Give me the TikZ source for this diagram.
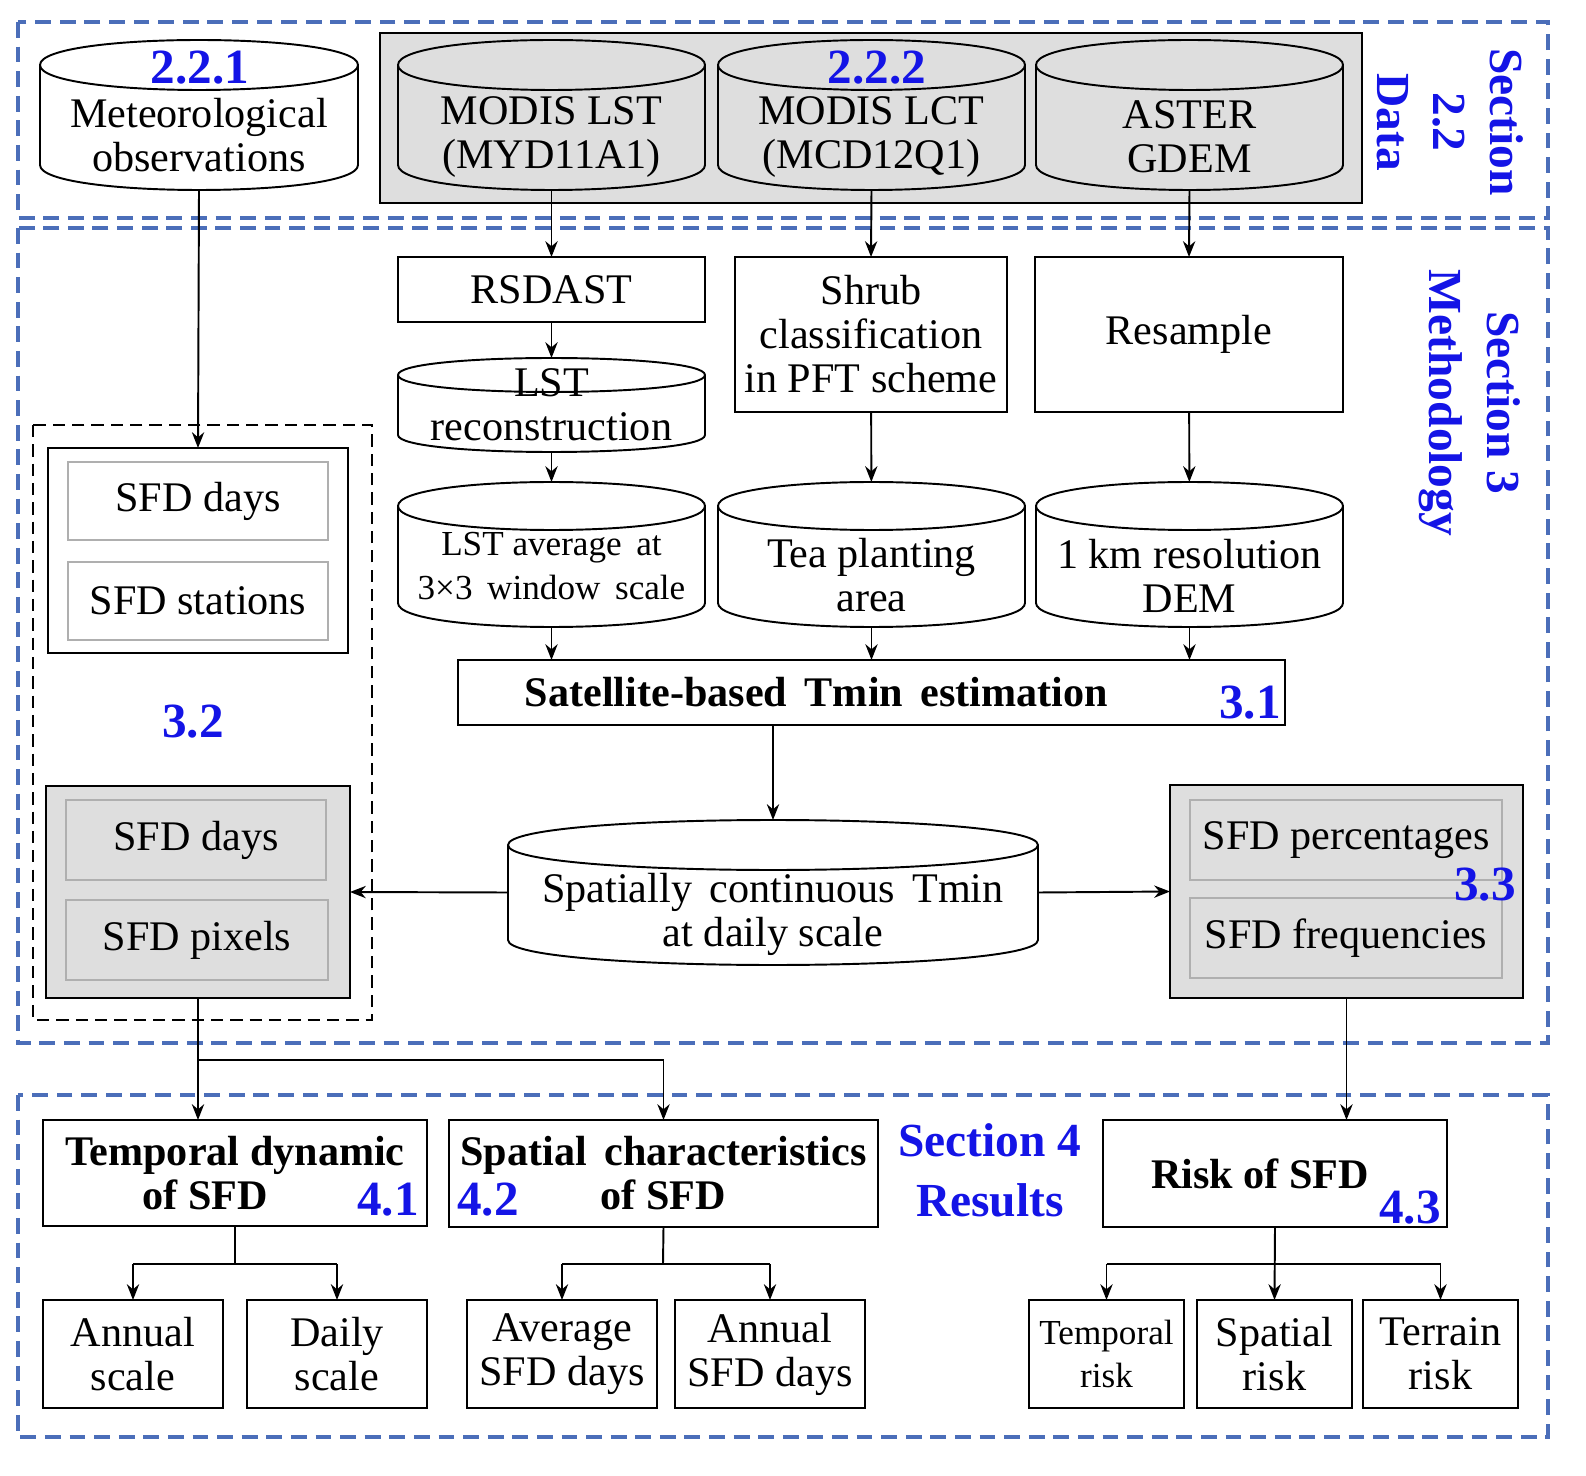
\documentclass[tikz,border=0pt]{standalone}
\usepackage{fontspec}
\setmainfont{Liberation Serif}
\usetikzlibrary{fit,arrows.meta}
\definecolor{secblue}{RGB}{75,110,185}
\definecolor{lblue}{RGB}{20,20,230}
\definecolor{gfill}{RGB}{222,222,222}
\definecolor{ibord}{RGB}{175,175,175}
\newcommand\fs{\fontsize{24}{25}\selectfont}
\newcommand\fsm{\fontsize{20}{25}\selectfont}
\newcommand\fsb{\fontsize{28}{34}\selectfont\bfseries}
\tikzset{
 box/.style={draw,line width=1.1pt,inner sep=0pt,outer sep=0pt},
 inbox/.style={draw=ibord,line width=1.5pt,inner sep=0pt,outer sep=0pt},
 txt/.style={inner sep=0pt,align=center,font=\fs},
 cyl/.style={draw,line width=1.1pt},
 sec/.style={draw=secblue,dashed,line width=1.8pt,dash pattern=on 9pt off 5pt},
 lab/.style={text=lblue,font=\fsb,inner sep=0pt,align=center},
 arr/.style={line width=1.1pt,-{Stealth[length=9pt,width=7pt]}},
 ln/.style={line width=1.1pt}
}
\newcommand\bx[7][]{\node[box,#1,fit={(#3,#4)(#5,#6)}] (#2) {};
 \node[txt,#1,draw=none,fill=none] (#2t) at (#2.center) {#7};}
\newcommand\cy[9]{%
 \path[cyl,fill=#7] (#2,{#3+#6}) -- (#2,{#5-#6}) .. controls (#2,{#5+0.333*#6}) and (#4,{#5+0.333*#6}) .. (#4,{#5-#6}) -- (#4,{#3+#6}) .. controls (#4,{#3-0.333*#6}) and (#2,{#3-0.333*#6}) .. cycle;
 \path[cyl] (#2,{#3+#6}) .. controls (#2,{#3+2.333*#6}) and (#4,{#3+2.333*#6}) .. (#4,{#3+#6});
 \node[inner sep=0pt,outer sep=0pt,fit={(#2,#3)(#4,#5)}] (#1) {};
 \node[txt] (#1t) at ({(#2+#4)/2},{(#3+#5)/2+#9}) {#8};
}
\begin{document}
\begin{tikzpicture}[x=0.02cm,y=-0.02cm]
\useasboundingbox (0,0) rectangle (1586,1476);
% section frames
\draw[sec] (18,22) rectangle (1548,218);
\draw[sec] (18,228) rectangle (1548,1043);
\draw[sec] (18,1095) rectangle (1548,1437);
\node[lab,rotate=-90,font=\fontsize{27}{32}\selectfont\bfseries] (s22) at (1450,122) {Section\\2.2\\Data};
\node[lab,rotate=-90,font=\fontsize{27}{33}\selectfont\bfseries] (s3) at (1470,403) {Section 3\\Methodology};
\node[lab,font=\fontsize{27}{34}\selectfont\bfseries] (s4) at (990,1170) {Section 4\\Results};
% data
\draw[line width=1.1pt,fill=gfill] (380,33) rectangle (1362,203);
\cy{met}{40}{40}{358}{190}{25}{white}{Meteorological\\observations}{20}
\cy{lst}{398}{40}{705}{190}{25}{gfill}{MODIS LST\\(MYD11A1)}{22}
\cy{lct}{718}{40}{1025}{190}{25}{gfill}{MODIS LCT\\(MCD12Q1)}{22}
\cy{ast}{1036}{40}{1343}{190}{25}{gfill}{ASTER\\GDEM}{22}
\node[lab] (l221) at (200,68) {2.2.1};
\node[lab] (l222) at (877,68) {2.2.2};
% methodology
\bx{rsd}{398}{257}{705}{322}{RSDAST}
\cy{rec}{398}{358}{705}{452}{17}{white}{LST\\reconstruction}{0}
\cy{avg}{398}{482}{705}{627}{24}{white}{\fsm LST average\, at\\\fsm 3×3\, window\, scale}{12}
\bx{shr}{735}{257}{1007}{412}{Shrub\\classification\\in PFT scheme}
\bx{res}{1035}{257}{1343}{412}{Resample}
\cy{tea}{718}{482}{1025}{627}{24}{white}{Tea planting\\area}{21}
\cy{dem}{1036}{482}{1343}{627}{24}{white}{1 km resolution\\DEM}{21}
\bx[font=\fs\bfseries]{sat}{458}{660}{1285}{725}{Satellite-based\, Tmin\, estimation\hspace*{2.2cm}}
\node[lab] (l31) at (1250,703) {3.1};
\cy{spc}{508}{820}{1038}{965}{25}{white}{Spatially\, continuous\, Tmin\\at daily scale}{22}
% left group
\draw[ln,dashed,dash pattern=on 7pt off 4pt] (33,425) rectangle (372,1020);
\node[box,fit={(48,448)(348,653)}] (up) {};
\bx[inbox]{ud}{68}{462}{328}{540}{SFD days}
\bx[inbox]{us}{68}{562}{328}{640}{SFD stations}
\node[lab] (l32) at (193,722) {3.2};
\node[box,fill=gfill,fit={(46,786)(350,998)}] (lo) {};
\bx[inbox,fill=gfill]{ld}{66}{800}{326}{880}{SFD days}
\bx[inbox,fill=gfill]{lp}{66}{900}{328}{980}{SFD pixels}
% right group
\node[box,fill=gfill,fit={(1170,785)(1523,998)}] (rg) {};
\bx[inbox,fill=gfill]{rp}{1190}{800}{1502}{880}{SFD percentages}
\bx[inbox,fill=gfill]{rf}{1190}{898}{1502}{978}{SFD frequencies}
\node[lab] (l33) at (1485,885) {3.3};
% results
\bx[font=\fs\bfseries]{tem}{43}{1120}{427}{1226}{Temporal dynamic\\of SFD\hspace*{1.2cm}}
\node[lab] (l41) at (388,1200) {4.1};
\bx[font=\fs\bfseries]{spa}{449}{1120}{878}{1227}{Spatial\, characteristics\\of SFD}
\node[lab] (l42) at (488,1200) {4.2};
\bx[font=\fs\bfseries]{rsk}{1103}{1120}{1447}{1227}{Risk of SFD\hspace*{0.6cm}}
\node[lab] (l43) at (1410,1208) {4.3};
\bx{ann}{43}{1300}{223}{1408}{Annual\\scale}
\bx{day}{247}{1300}{427}{1408}{Daily\\scale}
\bx{ave}{467}{1300}{657}{1408}{Average\\SFD days}
\bx{asd}{675}{1300}{865}{1408}{Annual\\SFD days}
\bx[font=\fsm]{tr}{1029}{1300}{1184}{1408}{Temporal\\risk}
\bx{sr}{1197}{1300}{1352}{1408}{Spatial\\risk}
\bx{trr}{1363}{1300}{1518}{1408}{Terrain\\risk}
% arrows
\draw[arr] (met.south) -- (up.north);
\draw[arr] (lst.south) -- (rsd.north);
\draw[arr] (lct.south) -- (shr.north);
\draw[arr] (ast.south) -- (res.north);
\draw[arr] (rsd) -- (rec);
\draw[arr] (rec) -- (avg);
\draw[arr] (shr) -- (tea);
\draw[arr] (res) -- (dem);
\draw[arr] (avg.south) -- (avg.south |- sat.north);
\draw[arr] (tea.south) -- (tea.south |- sat.north);
\draw[arr] (dem.south) -- (dem.south |- sat.north);
\draw[arr] (spc.north |- sat.south) -- (spc.north);
\draw[arr] (spc.west) -- (lo.east);
\draw[arr] (spc.east) -- (rg.west);
\coordinate (br) at (198,1060);
\draw[arr] (198,998) -- (198,1120);
\draw[arr] (br) -- (spa.north |- br) -- (spa.north);
\draw[arr] (rg.south) -- (rg.south |- rsk.north);
\coordinate (tb) at (235,1264);
\draw[ln] (235,1226) -- (tb);
\draw[ln] (ann.north |- tb) -- (day.north |- tb);
\draw[arr] (ann.north |- tb) -- (ann.north);
\draw[arr] (day.north |- tb) -- (day.north);
\coordinate (sb) at (663,1264);
\draw[ln] (spa.south) -- (sb);
\draw[ln] (ave.north |- sb) -- (asd.north |- sb);
\draw[arr] (ave.north |- sb) -- (ave.north);
\draw[arr] (asd.north |- sb) -- (asd.north);
\coordinate (rb) at (1275,1264);
\draw[arr] (1275,1227) -- (sr.north);
\draw[ln] (tr.north |- rb) -- (trr.north |- rb);
\draw[arr] (tr.north |- rb) -- (tr.north);
\draw[arr] (trr.north |- rb) -- (trr.north);
\end{tikzpicture}
\end{document}
